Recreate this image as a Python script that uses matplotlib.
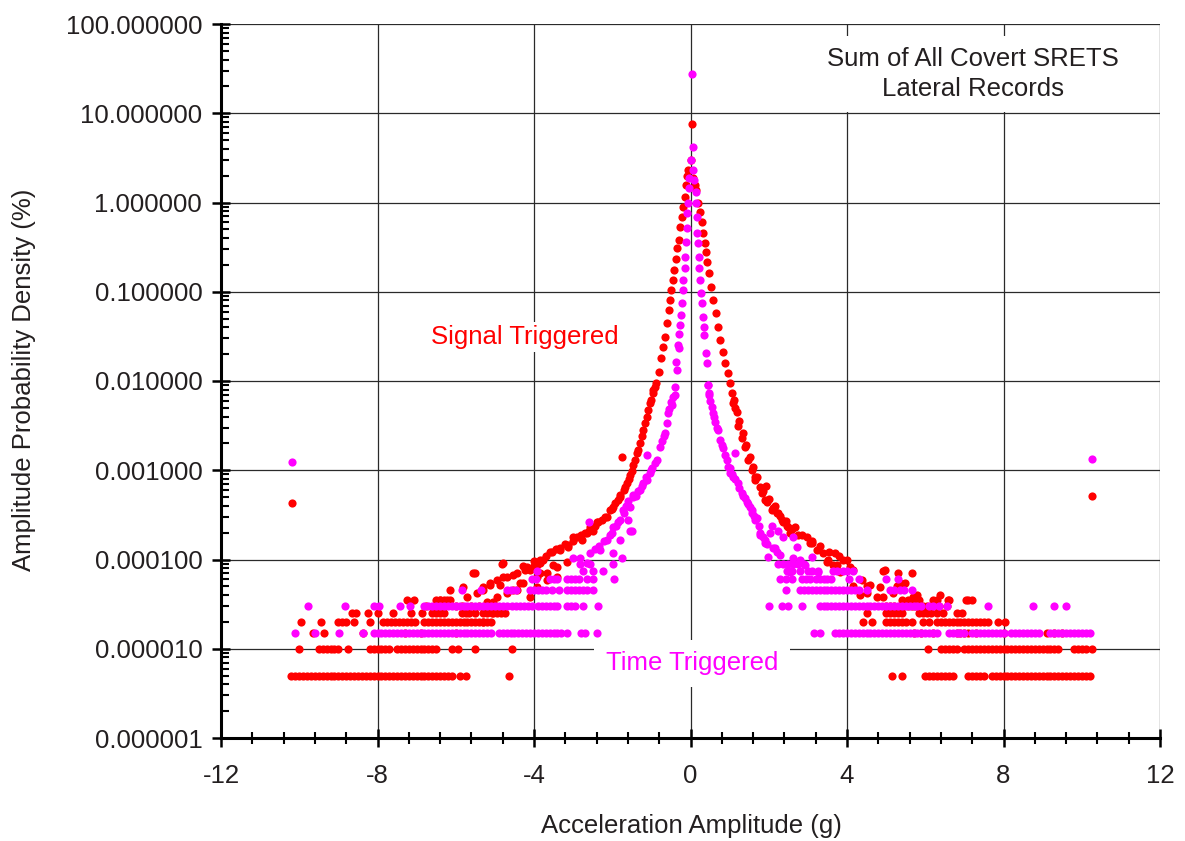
import numpy as np
import matplotlib
matplotlib.use('Agg')
import matplotlib.pyplot as plt
from matplotlib.ticker import MultipleLocator, LogLocator, FormatStrFormatter, NullFormatter

plt.rcParams['font.family'] = ['Liberation Sans', 'DejaVu Sans']
plt.rcParams['axes.unicode_minus'] = False

# ---- Signal triggered (red): tail bins sit on discrete count levels ----
sig_x_5e6 = [-10.2, -10.1, -10.0, -9.9, -9.8, -9.7, -9.6, -9.5, -9.4, -9.3, -9.2, -9.1, -9.0,
             -8.9, -8.8, -8.7, -8.6, -8.5, -8.4, -8.3, -8.2, -8.1, -8.0, -7.9, -7.8, -7.7,
             -7.6, -7.5, -7.4, -7.3, -7.2, -7.1, -7.0, -6.9, -6.8, -6.7, -6.6, -6.5, -6.4,
             -6.3, -6.2, -6.1, -5.9, -5.75, -4.65,
             5.15, 5.4, 6.0, 6.1, 6.2, 6.3, 6.4, 6.5, 6.6, 6.7, 7.1, 7.2, 7.3, 7.4, 7.5,
             7.7, 7.8, 7.9, 8.0, 8.1, 8.2, 8.3, 8.4, 8.5, 8.6, 8.7, 8.8, 8.9, 9.0, 9.1,
             9.2, 9.3, 9.4, 9.5, 9.6, 9.7, 9.8, 9.9, 10.0, 10.1, 10.2]
sig_x_1e5 = [-10.0, -9.5, -9.4, -9.3, -9.2, -9.1, -9.0, -8.75, -8.2, -8.1, -8.0, -7.9, -7.8,
             -7.7, -7.5, -7.4, -7.3, -7.2, -7.1, -7.0, -6.9, -6.8, -6.7, -6.6, -6.5, -6.1,
             -5.95, -5.5, -4.55,
             6.07, 6.4, 6.5, 6.6, 6.7, 6.8, 7.0, 7.1, 7.2, 7.3, 7.4, 7.5, 7.6, 7.7, 7.8,
             7.9, 8.0, 8.1, 8.2, 8.3, 8.4, 8.5, 8.6, 8.7, 8.8, 8.9, 9.0, 9.1, 9.2, 9.3,
             9.4, 9.8, 9.9, 10.0, 10.1, 10.25]
sig_x_15e6 = [-9.65, -9.37, -8.37, -7.3, -6.9, -6.0,
              5.7, 5.9, 6.2, 6.8, 6.9, 7.0, 7.1, 7.3, 8.0, 9.1, 9.3, 9.5]
sig_x_2e5 = [-9.96, -9.44, -9.0, -8.9, -8.8, -8.6, -8.2, -7.85, -7.75, -7.65, -7.55, -7.45,
             -7.35, -7.25, -7.15, -7.05, -6.8, -6.7, -6.6, -6.5, -6.4, -6.3, -6.2, -6.1,
             -6.0, -5.9, -5.8, -5.7, -5.6, -5.5, -5.4, -5.3, -5.2, -5.1,
             4.4, 4.65, 5.0, 5.1, 5.2, 5.3, 5.4, 5.5, 5.65, 5.95, 6.1, 6.3, 6.4, 6.5, 6.6,
             6.7, 6.8, 6.9, 7.0, 7.1, 7.2, 7.3, 7.4, 7.5, 7.6, 7.85, 8.05]
sig_x_25e6 = [-8.65, -8.55, -8.25, -8.0, -7.6, -7.15, -6.85, -6.6, -6.5, -6.4, -6.3, -5.85,
              -5.75, -5.65, -5.5, -5.3, -5.2, -5.05, -4.95, -4.85,
              4.5, 5.0, 5.1, 5.2, 5.3, 5.4, 5.85, 5.95, 6.05, 6.15, 6.3, 6.45, 6.8, 6.95]
sig_x_3e5 = [-6.75, -6.0, -5.85, -5.6, -5.4, -5.25,
             5.0, 5.1, 5.2, 5.35, 5.45, 5.55, 5.65, 5.75, 5.85, 5.95, 6.05, 6.15, 6.25,
             6.35, 6.55]
sig_x_35e6 = [-7.25, -7.07, -6.5, -6.4, -6.3, -6.15,
              5.4, 5.55, 5.7, 5.85, 6.2, 6.3, 6.6, 7.05, 7.2]

# core of the red distribution, (g, %) pairs
sig_core = [
    (0.03, 7.6), (0.0, 3.0), (-0.06, 2.3), (-0.08, 2.0), (-0.12, 1.57), (-0.14, 1.15),
    (-0.18, 0.89), (-0.23, 0.69), (-0.27, 0.53), (-0.30, 0.38), (-0.34, 0.31), (-0.37, 0.23),
    (-0.42, 0.175), (-0.46, 0.135), (-0.50, 0.105), (-0.52, 0.081), (-0.56, 0.063),
    (-0.61, 0.045), (-0.65, 0.031), (-0.70, 0.024), (-0.75, 0.018), (-0.81, 0.0126),
    (-0.88, 0.0095), (-0.91, 0.0085), (-0.96, 0.0079), (-0.97, 0.0073), (-1.0, 0.0062),
    (-1.04, 0.0057), (-1.08, 0.0047), (-1.12, 0.0040), (-1.17, 0.0034), (-1.21, 0.0028),
    (-1.25, 0.0024), (-1.29, 0.0020), (-1.33, 0.0017), (-1.38, 0.00156), (-1.42, 0.0013),
    (-1.47, 0.00115), (-1.50, 0.00097), (-1.55, 0.00089), (-1.58, 0.00080), (-1.62, 0.00072),
    (-1.67, 0.00065), (-1.70, 0.00060), (-1.76, 0.00141), (-1.80, 0.00053), (-1.80, 0.00050),
    (-1.85, 0.00046), (-1.93, 0.00043), (-1.98, 0.00039), (-2.0, 0.00037), (-2.06, 0.00036),
    (-2.13, 0.00030), (-2.19, 0.00030), (-2.25, 0.00028), (-2.36, 0.00026), (-2.39, 0.00026),
    (-2.45, 0.00024), (-2.49, 0.00021), (-2.57, 0.00023), (-2.6, 0.00021), (-2.65, 0.00020),
    (-2.70, 0.00020), (-2.77, 0.000165), (-2.8, 0.00019), (-2.90, 0.00018), (-3.0, 0.00018),
    (-3.0, 0.00016), (-3.13, 0.000138), (-3.13, 0.000145), (-3.2, 0.00015), (-3.34, 0.000135),
    (-3.34, 0.000128), (-3.45, 0.00013), (-3.54, 0.000121), (-3.59, 0.000121), (-3.7, 0.00011),
    (-3.77, 0.000099), (-3.85, 0.0001), (-3.92, 0.000087), (-4.0, 0.000095), (-4.03, 0.000082),
    (-4.18, 0.000082), (-4.23, 0.000076), (-4.43, 0.000071), (-4.79, 0.000091), (-5.51, 0.000071),
    (-4.69, 0.000064), (-4.95, 0.000059), (-5.12, 0.000052), (-5.30, 0.000046), (-4.28, 0.000055),
    (-4.54, 0.000046), (-5.05, 0.000033), (-5.20, 0.000027), (-4.74, 0.000025), (-5.07, 0.000025),
    (-5.30, 0.00002), (-3.92, 0.000064), (-3.67, 0.000071), (-3.41, 0.000082), (-4.83, 0.000089),
    (-4.28, 0.000085), (-3.85, 0.000091), (-3.51, 0.000087), (-3.16, 0.000094), (-5.56, 0.000071),
    (-5.81, 0.000049), (-6.15, 0.000045), (-5.30, 0.000049), (-5.12, 0.000055), (-4.87, 0.000052),
    (-4.79, 0.000064), (-4.54, 0.000067), (-4.36, 0.000055), (-4.10, 0.000076), (-3.85, 0.000071),
    (-6.40, 0.000035), (-6.22, 0.000035), (-5.71, 0.000038), (-5.46, 0.000042), (-5.20, 0.000033),
    (-4.95, 0.000038), (-4.69, 0.000042), (-4.43, 0.000046), (-4.10, 0.000038), (-3.92, 0.000049),
    (-3.67, 0.000059), (-3.41, 0.000064),
    (0.07, 1.88), (0.115, 1.57), (0.14, 1.38), (0.20, 0.99), (0.24, 0.78), (0.29, 0.60),
    (0.33, 0.45), (0.36, 0.35), (0.40, 0.28), (0.43, 0.215), (0.48, 0.162), (0.52, 0.113),
    (0.58, 0.081), (0.64, 0.058), (0.70, 0.040), (0.75, 0.029), (0.82, 0.021), (0.88, 0.0159),
    (0.95, 0.0123), (1.01, 0.0095), (1.07, 0.0073), (1.09, 0.0057), (1.10, 0.0062), (1.15, 0.0050),
    (1.19, 0.0045), (1.21, 0.0031), (1.25, 0.0036), (1.32, 0.0023), (1.35, 0.0026), (1.39, 0.0018),
    (1.43, 0.0019), (1.47, 0.0013), (1.52, 0.0014), (1.57, 0.0010), (1.60, 0.0011), (1.65, 0.00078),
    (1.65, 0.00084), (1.70, 0.00085), (1.78, 0.00065), (1.83, 0.00056), (1.85, 0.00058),
    (1.90, 0.00046), (1.93, 0.00067), (1.96, 0.00044), (2.0, 0.00048), (2.08, 0.00036),
    (2.11, 0.00038), (2.15, 0.00040), (2.21, 0.00033), (2.24, 0.00033), (2.30, 0.00031),
    (2.34, 0.00028), (2.36, 0.00026), (2.45, 0.00027), (2.47, 0.00024), (2.49, 0.00023),
    (2.55, 0.00020), (2.60, 0.00022), (2.67, 0.00023), (2.75, 0.00019), (2.85, 0.00019),
    (2.98, 0.00018), (3.05, 0.000153), (3.10, 0.00016), (3.11, 0.000153), (3.23, 0.000128),
    (3.30, 0.00014), (3.39, 0.000118), (3.49, 0.000094), (3.51, 0.000099), (3.55, 0.00012),
    (3.64, 0.000087), (3.69, 0.000118), (3.74, 0.000087), (3.80, 0.00011), (3.82, 0.000072),
    (3.90, 0.000099), (4.00, 0.000099), (4.08, 0.000082), (4.15, 0.000076), (4.33, 0.000040),
    (4.38, 0.000059), (4.51, 0.000042), (4.59, 0.000052), (4.77, 0.000038), (4.84, 0.000049),
    (4.92, 0.000074), (4.92, 0.000038), (4.97, 0.000076), (5.18, 0.000042), (5.30, 0.000071),
    (5.35, 0.000055), (5.48, 0.000055), (5.66, 0.000071), (5.69, 0.000038), (5.79, 0.000040),
    (6.38, 0.000040), (6.58, 0.000035), (7.09, 0.000035), (4.15, 0.000050), (4.51, 0.000050),
    (5.28, 0.000050),
    (-10.19, 0.00043), (10.26, 0.00052),
]

# ---- Time triggered (magenta) ----
tim_x_15e6 = [-10.11, -9.6, -8.98, -8.37, -8.1, -8.0, -7.9, -7.8, -7.7, -7.6, -7.5, -7.4, -7.3,
              -7.2, -7.1, -7.0, -6.9, -6.8, -6.7, -6.6, -6.5, -6.4, -6.3, -6.2, -6.1, -6.0,
              -5.9, -5.8, -5.7, -5.6, -5.5, -5.4, -5.3, -5.2, -5.1, -4.9, -4.8, -4.7, -4.6,
              -4.5, -4.4, -4.3, -4.2, -4.1, -4.0, -3.9, -3.8, -3.7, -3.6, -3.5, -3.4, -3.3,
              -3.15, -2.8, -2.7, -2.4,
              3.15, 3.3, 3.7, 3.8, 3.9, 4.0, 4.1, 4.2, 4.3, 4.4, 4.5, 4.6, 4.7, 4.8, 4.9,
              5.0, 5.1, 5.2, 5.3, 5.4, 5.5, 5.6, 5.7, 5.8, 5.9, 6.0, 6.1, 6.2, 6.3, 6.6,
              6.7, 6.8, 6.9, 7.0, 7.2, 7.3, 7.4, 7.5, 7.6, 7.7, 7.8, 7.9, 8.0, 8.2, 8.3,
              8.4, 8.5, 8.6, 8.7, 8.8, 8.9, 9.2, 9.3, 9.4, 9.5, 9.6, 9.7, 9.8, 9.9, 10.0,
              10.1, 10.2]
tim_x_3e5 = [-9.78, -8.83, -8.1, -7.95, -7.43, -7.17, -6.8, -6.7, -6.6, -6.5, -6.4, -6.3,
             -6.2, -6.1, -6.0, -5.9, -5.8, -5.7, -5.6, -5.5, -5.4, -5.3, -5.2, -5.1, -5.0,
             -4.9, -4.8, -4.7, -4.55, -4.45, -4.35, -4.25, -4.15, -4.05, -3.9, -3.8, -3.7,
             -3.6, -3.5, -3.4, -3.15, -3.05, -2.95, -2.75, -2.36,
             2.0, 2.35, 2.5, 2.85, 3.3, 3.4, 3.5, 3.6, 3.7, 3.8, 3.9, 4.0, 4.1, 4.2, 4.3,
             4.4, 4.5, 4.6, 4.7, 4.8, 4.9, 5.0, 5.1, 5.2, 5.3, 5.4, 5.5, 5.6, 5.7, 5.8,
             5.9, 6.1, 6.2, 6.35, 6.55, 7.6, 8.75, 9.3, 9.6]
tim_x_45e6 = [-5.85, -5.35, -4.7, -4.6, -4.45, -4.1, -4.0, -3.9, -3.8, -3.7, -3.55, -3.35,
              -3.15, -3.05, -2.95, -2.85, -2.75, -2.65, -2.5,
              2.45, 2.8, 2.9, 3.0, 3.1, 3.2, 3.3, 3.4, 3.5, 3.6, 3.7, 3.8, 3.9, 4.0, 4.1,
              4.2, 4.3, 4.5, 5.1, 5.2, 5.35, 5.45, 5.65]
tim_x_6e5 = [-4.05, -3.95, -3.6, -3.5, -3.4, -3.15, -3.05, -2.95, -2.85, -2.65, -2.5, -1.95,
             2.3, 2.45, 2.6, 2.85, 2.95, 3.05, 3.2, 3.3, 3.4, 3.5, 3.6, 4.05, 4.3, 5.0, 5.3]
tim_x_75e6 = [-3.93, -2.75, -2.49, -2.24,
              2.47, 2.6, 2.8, 3.0, 3.1, 3.25, 3.65, 3.75, 3.9, 4.0, 4.15]
tim_x_9e5 = [-2.83, -2.57, -1.97,
             2.24, 2.36, 2.5, 2.62, 2.75, 2.9]

tim_core = [
    (0.03, 27.5), (0.06, 4.2), (0.0, 3.0), (0.06, 2.3), (-0.04, 1.88), (0.09, 1.79),
    (-0.04, 1.45), (0.13, 1.31), (-0.06, 0.99), (0.14, 0.99), (-0.09, 0.76), (0.16, 0.69),
    (-0.10, 0.52), (0.17, 0.45), (-0.115, 0.36), (0.19, 0.35), (-0.13, 0.245), (0.22, 0.245),
    (-0.15, 0.185), (0.22, 0.185), (-0.18, 0.135), (0.24, 0.135), (-0.20, 0.105), (0.26, 0.097),
    (-0.225, 0.075), (0.29, 0.075), (-0.25, 0.055), (0.31, 0.052), (-0.27, 0.042), (0.345, 0.040),
    (-0.29, 0.034), (0.35, 0.033), (-0.31, 0.025), (-0.29, 0.0234), (0.40, 0.0206),
    (-0.37, 0.0163), (-0.34, 0.0133), (0.41, 0.0159), (-0.40, 0.0086), (-0.40, 0.0070),
    (0.455, 0.0090), (0.465, 0.0073),
    (-0.45, 0.0066), (-0.47, 0.0054), (-0.5, 0.0058), (-0.55, 0.0048), (-0.575, 0.0044),
    (-0.60, 0.0034), (-0.65, 0.0026), (-0.68, 0.0024), (-0.72, 0.0021), (-0.78, 0.0018),
    (-0.86, 0.0013), (-0.9, 0.0012), (-0.98, 0.00106), (-1.0, 0.0010), (-1.035, 0.00093),
    (-1.11, 0.00148), (-1.11, 0.00078), (-1.15, 0.00085), (-1.21, 0.00072), (-1.25, 0.00066),
    (-1.29, 0.00060), (-1.35, 0.00058), (-1.4, 0.00052), (-1.47, 0.00050), (-1.47, 0.00053),
    (-1.495, 0.00021), (-1.55, 0.00039), (-1.55, 0.00021), (-1.6, 0.00045), (-1.60, 0.00028),
    (-1.65, 0.00040), (-1.7, 0.00033), (-1.73, 0.00036), (-1.75, 0.000104), (-1.80, 0.00028),
    (-1.80, 0.000165), (-1.85, 0.00026), (-1.9, 0.00024), (-1.98, 0.00023), (-1.98, 0.000118),
    (-2.0, 0.00020), (-2.05, 0.00019), (-2.13, 0.000165), (-2.2, 0.00016), (-2.31, 0.000128),
    (-2.35, 0.00014), (-2.45, 0.00013), (-2.57, 0.000118), (-2.6, 0.00026), (-2.65, 0.000091),
    (-3.0, 0.000105), (-2.83, 0.000105),
    (0.45, 0.0090), (0.47, 0.0070), (0.5, 0.006), (0.55, 0.0051), (0.575, 0.0044), (0.6, 0.004),
    (0.63, 0.0035), (0.67, 0.003), (0.70, 0.0028), (0.75, 0.0022), (0.8, 0.0019), (0.83, 0.00177),
    (0.88, 0.0015), (0.93, 0.0013), (0.97, 0.0011), (1.01, 0.00106), (1.01, 0.00093),
    (1.05, 0.0009), (1.09, 0.00084), (1.14, 0.00156), (1.15, 0.0008), (1.21, 0.00072),
    (1.25, 0.00064), (1.32, 0.00056), (1.35, 0.00052), (1.39, 0.00049), (1.44, 0.00044),
    (1.47, 0.00042), (1.52, 0.00039), (1.57, 0.00033), (1.57, 0.00036), (1.62, 0.00031),
    (1.65, 0.00028), (1.70, 0.00029), (1.74, 0.00024), (1.78, 0.00020), (1.78, 0.00019),
    (1.85, 0.00018), (1.90, 0.000153), (1.90, 0.000165), (1.95, 0.00015), (1.98, 0.000107),
    (2.03, 0.00020), (2.08, 0.00024), (2.11, 0.000135), (2.16, 0.000135), (2.2, 0.00012),
    (2.24, 0.00021), (2.29, 0.000112), (2.36, 0.00018), (2.54, 0.000072), (2.62, 0.00018),
    (2.62, 0.000104), (2.72, 0.000138), (2.80, 0.000099), (2.93, 0.000087), (3.11, 0.000107),
    (3.26, 0.000072),
    (-10.19, 0.00124), (10.26, 0.00135),
]

RED = '#ff0000'
MAG = '#ff00ff'
TXT = '#231f20'
FS = 18.5

fig = plt.figure(figsize=(11.85, 8.41), dpi=100)
ax = fig.add_axes([221 / 1185, 103 / 841, 939 / 1185, 714 / 841])

mk = dict(marker='o', linestyle='none', ms=5.9, mec='none')

sig_rows = [(sig_x_5e6, 5e-6), (sig_x_1e5, 1e-5), (sig_x_15e6, 1.5e-5), (sig_x_2e5, 2e-5),
            (sig_x_25e6, 2.5e-5), (sig_x_3e5, 3e-5), (sig_x_35e6, 3.5e-5)]
for xs, lvl in sig_rows:
    ax.plot(xs, np.full(len(xs), lvl), color=RED, zorder=3, **mk)
sx, sy = zip(*sig_core)
ax.plot(sx, sy, color=RED, zorder=3, **mk)

tim_rows = [(tim_x_15e6, 1.5e-5), (tim_x_3e5, 3e-5), (tim_x_45e6, 4.5e-5),
            (tim_x_6e5, 6e-5), (tim_x_75e6, 7.5e-5), (tim_x_9e5, 9e-5)]
for xs, lvl in tim_rows:
    ax.plot(xs, np.full(len(xs), lvl), color=MAG, zorder=4, **mk)
tx, ty = zip(*tim_core)
ax.plot(tx, ty, color=MAG, zorder=4, **mk)

ax.set_yscale('log')
ax.set_xlim(-12, 12)
ax.set_ylim(1e-6, 100)

ax.xaxis.set_major_locator(MultipleLocator(4))
ax.xaxis.set_minor_locator(MultipleLocator(0.8))
ax.yaxis.set_major_locator(LogLocator(base=10, numticks=20))
ax.yaxis.set_minor_locator(LogLocator(base=10, subs=np.arange(2, 10), numticks=20))
ax.yaxis.set_major_formatter(FormatStrFormatter('%.6f'))
ax.yaxis.set_minor_formatter(NullFormatter())

ax.grid(True, which='major', color='#2a2a2a', lw=0.9, zorder=1)
ax.set_axisbelow(True)
for s in ['top', 'right']:
    ax.spines[s].set_visible(False)
for s in ['left', 'bottom']:
    ax.spines[s].set_linewidth(2.2)
    ax.spines[s].set_color('black')

ax.tick_params(which='major', direction='inout', length=13, width=1.8,
               labelsize=FS, labelcolor=TXT)
ax.tick_params(axis='x', which='minor', direction='inout', length=8, width=1.5)
ax.tick_params(axis='y', which='minor', direction='in', length=6, width=1.5)
ax.tick_params(axis='x', which='major', pad=12)
ax.tick_params(axis='y', which='major', pad=7)

fig.text(691 / 1185, 1 - 826 / 841, 'Acceleration Amplitude (g)', fontsize=FS,
         color=TXT, ha='center', va='center')
fig.text(24 / 1185, 1 - 380 / 841, 'Amplitude Probability Density (%)', fontsize=FS,
         color=TXT, ha='center', va='center', rotation=90)

ax.text(-4.23, 0.031, 'Signal Triggered', color=RED, fontsize=FS, ha='center',
        va='center', zorder=5, bbox=dict(fc='white', ec='none', pad=2))
ax.text(0.04, 6.9e-6, 'Time Triggered', color=MAG, fontsize=FS, ha='center',
        va='center', zorder=5,
        bbox=dict(boxstyle='square,pad=0.45', fc='white', ec='none'))
ax.text(7.22, 27.5, 'Sum of All Covert SRETS\nLateral Records', color=TXT, fontsize=FS,
        ha='center', va='center', multialignment='center', linespacing=1.3, zorder=5,
        bbox=dict(boxstyle='square,pad=0.45', fc='white', ec='none'))

fig.savefig('out.png', dpi=100)
